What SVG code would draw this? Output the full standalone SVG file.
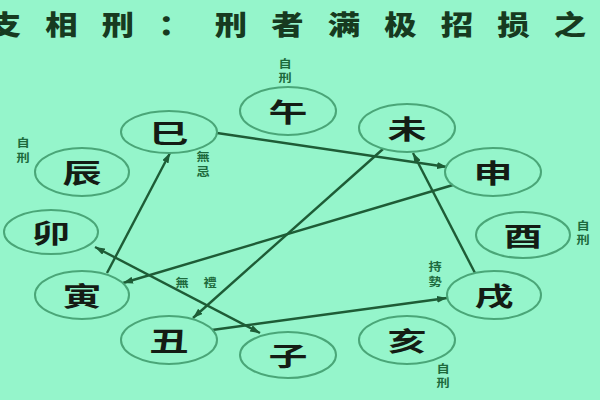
<svg xmlns="http://www.w3.org/2000/svg" width="600" height="400" viewBox="0 0 600 400">
<defs>
<style>
.bg{fill:#95f5cb}
.node ellipse{fill:none;stroke:#4aa678;stroke-width:2}
.node text{font-family:"Noto Sans CJK SC","Noto Sans CJK TC",sans-serif;font-weight:700;font-size:26px;fill:#141c14;text-anchor:middle;dominant-baseline:central}
.lbl{font-family:"Noto Sans CJK TC","Noto Sans CJK SC",sans-serif;font-weight:700;font-size:11px;fill:#1d6a3c;text-anchor:middle;dominant-baseline:central}
.title{font-family:"Noto Sans CJK SC",sans-serif;font-weight:900;font-size:27px;fill:#173a20;text-anchor:middle;dominant-baseline:central}
.edge{stroke:#1e5c36;stroke-width:2.4;fill:none}
</style>
<marker id="ah" viewBox="0 0 10 7" refX="10" refY="3.5" markerWidth="10" markerHeight="7" markerUnits="userSpaceOnUse" orient="auto-start-reverse">
<path d="M0,0 L10,3.5 L0,7 z" fill="#1e5c36"/>
</marker>
</defs>
<rect class="bg" x="0" y="0" width="600" height="400"/>
<text class="title" transform="scale(1.2,1)" x="4.17 51.25 98.33 145.42 192.5 239.58 286.67 333.75 380.83 427.92 475" y="23">支相刑：刑者满极招损之</text>
<g id="connectors">
<line class="edge" x1="217" y1="133" x2="447" y2="167" marker-end="url(#ah)"/>
<line class="edge" x1="453" y1="185" x2="123" y2="283" marker-end="url(#ah)"/>
<line class="edge" x1="107" y1="273" x2="170" y2="153" marker-end="url(#ah)"/>
<line class="edge" x1="383" y1="149" x2="193" y2="318" marker-end="url(#ah)"/>
<line class="edge" x1="212" y1="330" x2="447" y2="298" marker-end="url(#ah)"/>
<line class="edge" x1="475" y1="273" x2="413" y2="153" marker-end="url(#ah)"/>
<line class="edge" x1="95" y1="247" x2="260" y2="333" marker-start="url(#ah)" marker-end="url(#ah)"/>
</g>
<g id="node-wu" class="node"><ellipse cx="288" cy="111" rx="48" ry="24"/><text transform="translate(288,111) scale(1.5,1)">午</text></g>
<g id="node-wei" class="node"><ellipse cx="407" cy="128" rx="48" ry="24"/><text transform="translate(407,128) scale(1.5,1)">未</text></g>
<g id="node-shen" class="node"><ellipse cx="493" cy="172" rx="48" ry="24"/><text transform="translate(493,172) scale(1.5,1)">申</text></g>
<g id="node-you" class="node"><ellipse cx="523" cy="235" rx="47" ry="23"/><text transform="translate(523,235) scale(1.5,1)">酉</text></g>
<g id="node-xu" class="node"><ellipse cx="494" cy="295" rx="47" ry="24"/><text transform="translate(494,295) scale(1.5,1)">戌</text></g>
<g id="node-hai" class="node"><ellipse cx="407" cy="340" rx="48" ry="24"/><text transform="translate(407,340) scale(1.5,1)">亥</text></g>
<g id="node-zi" class="node"><ellipse cx="288" cy="355" rx="48" ry="23"/><text transform="translate(288,355) scale(1.5,1)">子</text></g>
<g id="node-chou" class="node"><ellipse cx="169" cy="340" rx="48" ry="24"/><text transform="translate(169,340) scale(1.5,1)">丑</text></g>
<g id="node-yin" class="node"><ellipse cx="82" cy="295" rx="47" ry="24"/><text transform="translate(82,295) scale(1.5,1)">寅</text></g>
<g id="node-mao" class="node"><ellipse cx="51" cy="232" rx="47" ry="22"/><text transform="translate(51,232) scale(1.5,1)">卯</text></g>
<g id="node-chen" class="node"><ellipse cx="82" cy="172" rx="47" ry="24"/><text transform="translate(82,172) scale(1.5,1)">辰</text></g>
<g id="node-si" class="node"><ellipse cx="169" cy="132" rx="48" ry="21"/><text transform="translate(169,132) scale(1.5,1)">巳</text></g>
<g id="labels">
<text class="lbl" transform="translate(285,63) scale(1.2,1)">自</text>
<text class="lbl" transform="translate(285,77) scale(1.2,1)">刑</text>
<text class="lbl" transform="translate(23,142) scale(1.2,1)">自</text>
<text class="lbl" transform="translate(23,157) scale(1.2,1)">刑</text>
<text class="lbl" transform="translate(203,156) scale(1.2,1)">無</text>
<text class="lbl" transform="translate(203,171) scale(1.2,1)">忌</text>
<text class="lbl" transform="translate(583,225) scale(1.2,1)">自</text>
<text class="lbl" transform="translate(583,239) scale(1.2,1)">刑</text>
<text class="lbl" transform="translate(435,266) scale(1.2,1)">持</text>
<text class="lbl" transform="translate(435,281) scale(1.2,1)">勢</text>
<text class="lbl" transform="translate(443,368) scale(1.2,1)">自</text>
<text class="lbl" transform="translate(443,382) scale(1.2,1)">刑</text>
<text class="lbl" transform="translate(182,282) scale(1.2,1)">無</text>
<text class="lbl" transform="translate(210,282) scale(1.2,1)">禮</text>
</g>
</svg>
